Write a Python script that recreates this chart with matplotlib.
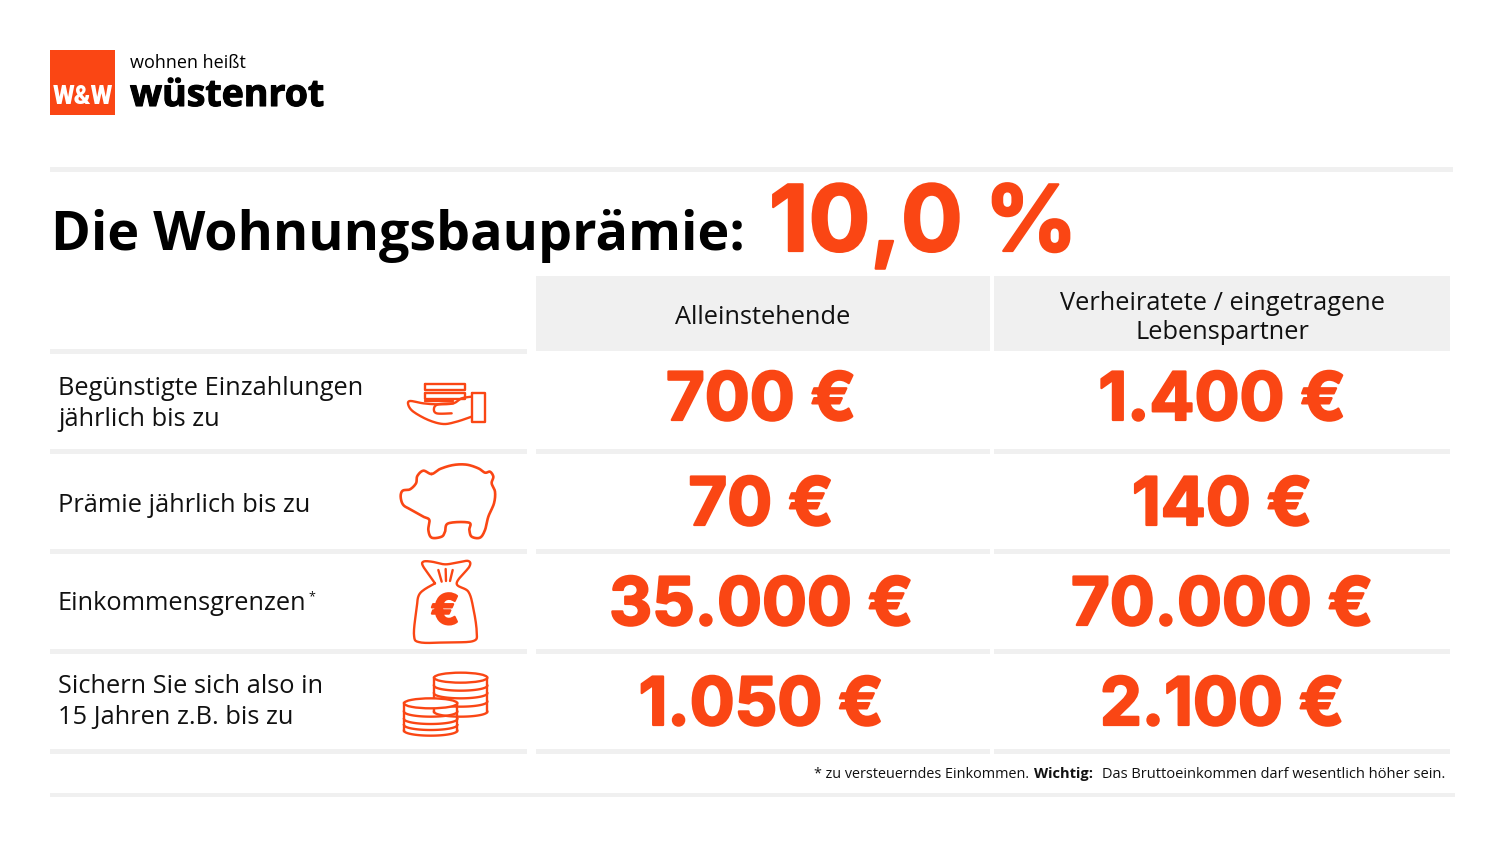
# Wohnungsbaupraemie table

import numpy as np
import matplotlib
matplotlib.use('Agg')
import matplotlib.pyplot as plt
import matplotlib.patheffects as pe
from matplotlib.patches import Rectangle, Ellipse

ORANGE = '#fa4614'
GREY = '#f0f0f0'

title = 'Die Wohnungsbauprämie:'
rate = '10,0 %'
columns = ['Alleinstehende', 'Verheiratete / eingetragene\nLebenspartner']
rows = ['Begünstigte Einzahlungen\njährlich bis zu', 'Prämie jährlich bis zu',
        'Einkommensgrenzen', 'Sichern Sie sich also in\n15 Jahren z.B. bis zu']
single = ['700 €', '70 €', '35.000 €', '1.050 €']
married = ['1.400 €', '140 €', '70.000 €', '2.100 €']

plt.rcParams['font.family'] = ['Open Sans', 'DejaVu Sans']

fig = plt.figure(figsize=(15, 8.44), dpi=100)
ax = fig.add_axes([0, 0, 1, 1])
ax.set_xlim(0, 1500)
ax.set_ylim(844, 0)
ax.axis('off')

heavy = [pe.withStroke(linewidth=1.6, foreground=ORANGE)]
heavy_black = [pe.withStroke(linewidth=0.8, foreground='black')]


def smooth(pts, closed=False, n=12):
    # catmull-rom through the points
    pts = np.array(pts, dtype=float)
    if closed:
        p = np.vstack([pts[-2], pts, pts[1]])
    else:
        p = np.vstack([pts[0], pts, pts[-1]])
    out = []
    for i in range(1, len(p) - 2):
        for t in np.linspace(0, 1, n, endpoint=False):
            out.append(0.5 * (2 * p[i] + (p[i + 1] - p[i - 1]) * t
                              + (2 * p[i - 1] - 5 * p[i] + 4 * p[i + 1] - p[i + 2]) * t ** 2
                              + (3 * p[i] - p[i - 1] - 3 * p[i + 1] + p[i + 2]) * t ** 3))
    out.append(p[-2])
    return np.array(out)


def icon_line(pts, ox, oy, curved=True, closed=False, lw=1.7):
    xy = smooth(pts, closed) if curved else np.array(pts, dtype=float)
    ax.plot(ox + xy[:, 0] / 3, oy + xy[:, 1] / 3, color=ORANGE, lw=lw,
            solid_capstyle='round', solid_joinstyle='round', zorder=4)


def icon_box(x0, y0, x1, y1, ox, oy, lw=1.7):
    icon_line([(x0, y0), (x1, y0), (x1, y1), (x0, y1), (x0, y0)], ox, oy, curved=False, lw=lw)


# logo
ax.add_patch(Rectangle((50, 50), 65, 65, color=ORANGE, lw=0))
ax.text(83, 97, 'W&W', color='white', fontsize=18, fontweight='black', family='Roboto',
        ha='center', va='center')
ax.text(130, 68, 'wohnen heißt', fontsize=13, color='black')
ax.text(130, 106, 'wüstenrot', fontsize=27, fontweight='bold', color='black', path_effects=heavy_black)

# separators
ax.add_patch(Rectangle((50, 167), 1403, 5, color=GREY, lw=0))
ax.add_patch(Rectangle((50, 793), 1405, 4, color=GREY, lw=0))

# title
ax.text(51, 250, title, fontsize=38.8, fontweight='bold', color='black')
ax.text(769, 251, rate, fontsize=66, fontweight='bold', family='Inter', color=ORANGE, path_effects=heavy)

# header cells
col_spans = [(536, 990), (994, 1450)]
for (x0, x1), label in zip(col_spans, columns):
    ax.add_patch(Rectangle((x0, 276), x1 - x0, 75, color=GREY, lw=0))
    ax.text((x0 + x1) / 2, 318, label, fontsize=18.3, va='center', ha='center',
            linespacing=1.17, color='#111111')

# rows
row_lines = [351, 451, 551, 651, 751]
for y in row_lines:
    ax.add_patch(Rectangle((50, y - 2.5), 477, 5, color=GREY, lw=0))
    if y > 351:
        for x0, x1 in col_spans:
            ax.add_patch(Rectangle((x0, y - 2.5), x1 - x0, 5, color=GREY, lw=0))

label_y = [404, 505, 603, 702]
value_y = [420, 525, 625, 725]
for i, label in enumerate(rows):
    ax.text(58, label_y[i], label, fontsize=18.3, va='center', linespacing=1.32, color='#111111')
    ax.text(761, value_y[i], single[i], fontsize=48, fontweight='bold', family='Inter', ha='center',
            color=ORANGE, path_effects=heavy)
    ax.text(1222, value_y[i], married[i], fontsize=48, fontweight='bold', family='Inter', ha='center',
            color=ORANGE, path_effects=heavy)
ax.text(308, 597, '*', fontsize=9, va='center', color='#111111')

# footnote
ax.text(814, 778, '* zu versteuerndes Einkommen.', fontsize=10.4, color='#111111')
ax.text(1034, 778, 'Wichtig:', fontsize=10.5, fontweight='bold', color='#111111')
ax.text(1445, 778, 'Das Bruttoeinkommen darf wesentlich höher sein.', fontsize=10.55,
        ha='right', color='#111111')

# icon: hand with money
ox, oy = 390, 370
icon_box(105, 41, 225, 60, ox, oy)
icon_box(105, 68, 225, 86, ox, oy)
icon_line([(105, 94), (190, 94)], ox, oy, curved=False)
icon_box(245, 70, 285, 155, ox, oy)
icon_line([(245, 80), (215, 85), (190, 100), (145, 103), (100, 100), (60, 93), (55, 105),
           (70, 125), (115, 150), (160, 162), (200, 155), (245, 140)], ox, oy)
icon_line([(190, 100), (145, 103), (132, 115), (140, 130), (185, 130)], ox, oy)

# icon: piggy bank
icon_line([(125, 312), (150, 297), (190, 285), (230, 284), (265, 295), (285, 308), (300, 305),
           (310, 320), (305, 340), (315, 365), (312, 400), (295, 440), (285, 480), (270, 503),
           (245, 500), (238, 480), (237, 458), (175, 460), (165, 485), (155, 500), (125, 503),
           (115, 480), (118, 450), (100, 440), (65, 420), (40, 405), (32, 380), (38, 362),
           (60, 358), (78, 340), (82, 318), (100, 302), (125, 312)], ox, oy, closed=True, lw=1.9)

# icon: money bag
ox, oy = 390, 555
icon_line([(135, 85), (100, 35), (100, 20), (125, 20), (165, 28), (205, 22), (235, 18), (238, 35),
           (200, 85), (235, 110), (250, 160), (260, 230), (250, 258), (170, 262), (90, 262),
           (72, 240), (80, 160), (90, 115), (135, 85)], ox, oy, lw=1.7)
icon_line([(145, 45), (155, 80)], ox, oy, curved=False)
icon_line([(167, 42), (168, 78)], ox, oy, curved=False)
icon_line([(188, 45), (180, 78)], ox, oy, curved=False)
ax.text(445, 613, '€', fontsize=30, fontweight='bold', family='Inter', color=ORANGE,
        ha='center', va='center', path_effects=heavy)


# icon: coins
def coin_stack(cx, levels):
    rx, ry = 80 / 3, 15 / 3
    top, bottom = oy + levels[0] / 3, oy + levels[-1] / 3
    t = np.linspace(0, np.pi, 40)
    x = ox + cx / 3 + rx * np.cos(t)
    ax.fill_between(x, top, bottom + ry * np.sin(t), color='white', lw=0, zorder=3)
    ax.plot([ox + cx / 3 - rx] * 2, [top, bottom], color=ORANGE, lw=1.7, zorder=4)
    ax.plot([ox + cx / 3 + rx] * 2, [top, bottom], color=ORANGE, lw=1.7, zorder=4)
    for lev in levels[1:]:
        ax.plot(x, oy + lev / 3 + ry * np.sin(t), color=ORANGE, lw=1.7, zorder=4)
    ax.add_patch(Ellipse((ox + cx / 3, top), 2 * rx, 2 * ry, fc='white', ec=ORANGE, lw=1.7, zorder=4))


coin_stack(212, [368, 392, 415, 440, 470])
coin_stack(122, [445, 470, 492, 510, 527])

fig.savefig('out.png', dpi=100)
